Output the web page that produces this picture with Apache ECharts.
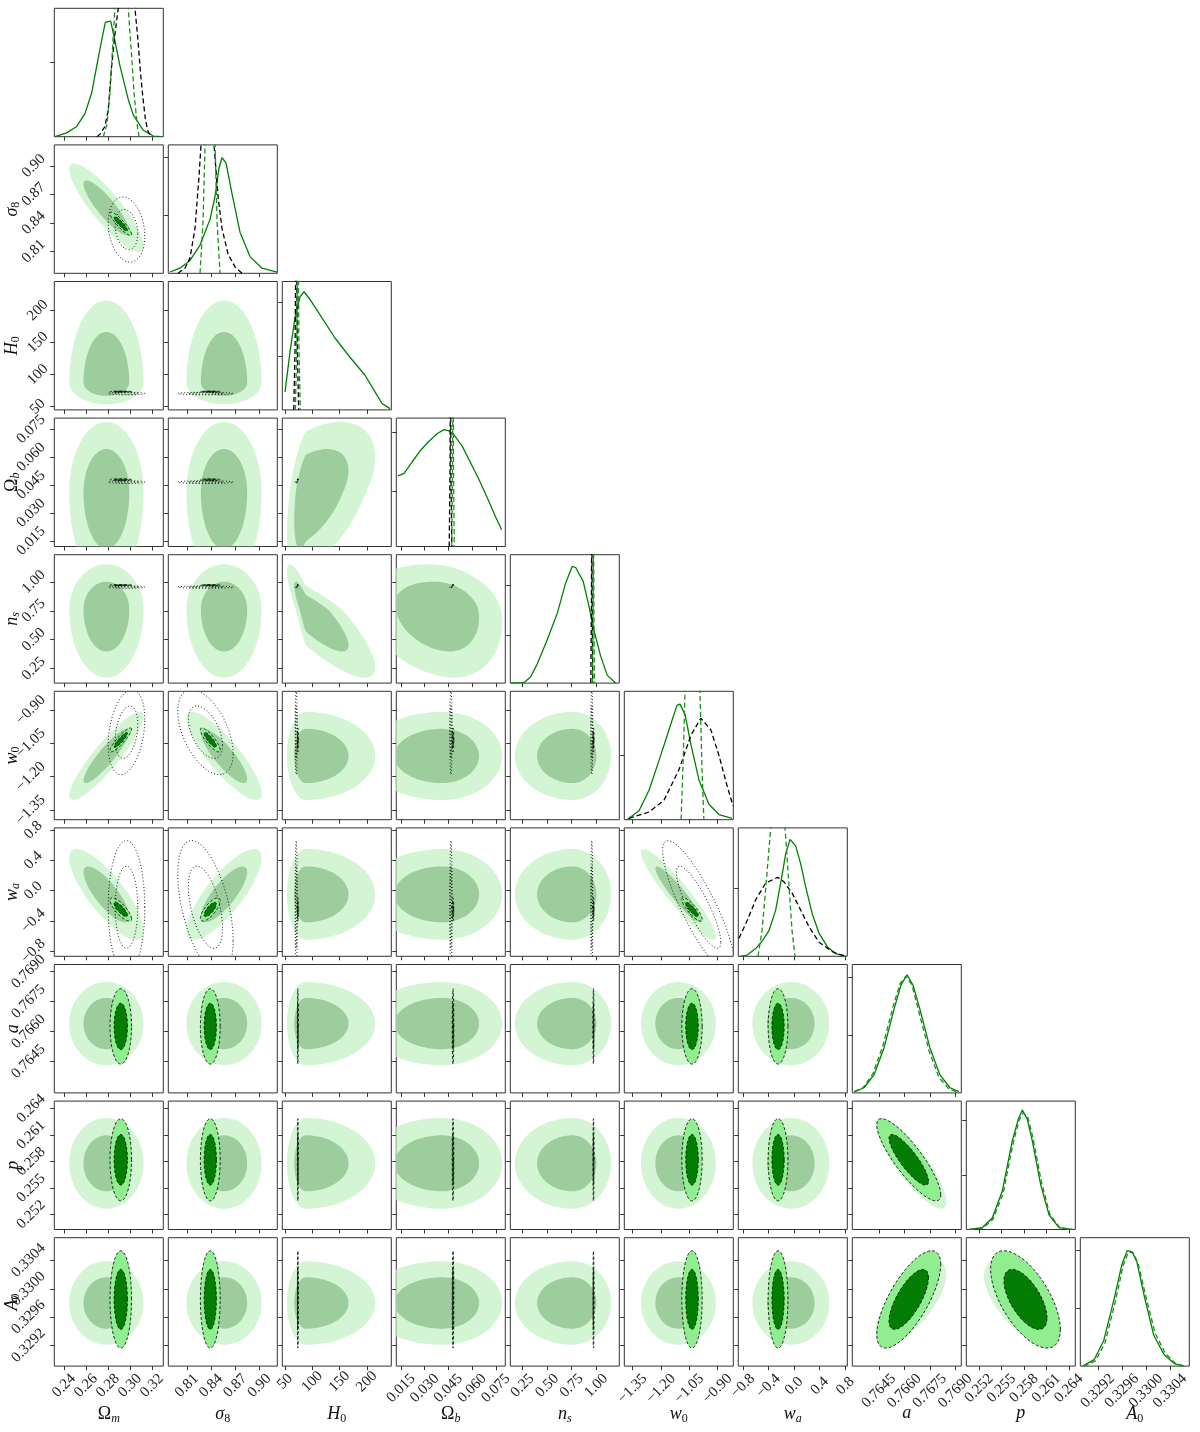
<!DOCTYPE html>
<html>
<head>
<meta charset="utf-8">
<script src="https://cdn.jsdelivr.net/npm/echarts@6/dist/echarts.min.js"></script>
<style>
html, body { margin: 0; background: #fff; }
#chart { width: 1200px; height: 1432px; }
</style>
</head>
<body>
<div id="chart"></div>
<script>
'use strict';

// parameters: Ωm, σ8, H0, Ωb, ns, w0, wa, a, p, A0
var paramSymbols = [['Ω', 'm', 0, 1], ['σ', '8', 1, 0], ['H', '0', 1, 0], ['Ω', 'b', 0, 1], ['n', 's', 1, 1],
  ['w', '0', 1, 0], ['w', 'a', 1, 1], ['a', '', 1, 0], ['p', '', 1, 0], ['A', '0', 1, 0]];
var axisMin = [0.2311, 0.787, 45, 0.012, 0.125, -1.394, -0.87, 0.76293, 0.2503, 0.32891];
var axisMax = [0.3303, 0.922, 245, 0.081, 1.235, -0.816, 0.83, 0.76936, 0.26485, 0.33072];
var tickLabels = [
  ['0.24', '0.26', '0.28', '0.30', '0.32'],
  ['0.81', '0.84', '0.87', '0.90'],
  ['50', '100', '150', '200'],
  ['0.015', '0.030', '0.045', '0.060', '0.075'],
  ['0.25', '0.50', '0.75', '1.00'],
  ['−1.35', '−1.20', '−1.05', '−0.90'],
  ['−0.8', '−0.4', '0.0', '0.4', '0.8'],
  ['0.7645', '0.7660', '0.7675', '0.7690'],
  ['0.252', '0.255', '0.258', '0.261', '0.264'],
  ['0.3292', '0.3296', '0.3300', '0.3304']
];
var diagTicks = [[0.58], [0.45, 0.9], [0.42, 0.84], [0.43, 0.89], [0.37, 0.76], [0.5], [0.53], [0.45, 0.9], [0.425, 0.85], [0.45, 0.9]];

// wide green run: centre, lower / upper spread, correlations
var greenMean = [0.2785, 0.856, 88, 0.041, 0.76, -1.107, -0.05, 0.7664, 0.2578, 0.3298];
var greenLo = [0.0138, 0.019, 14, 0.02, 0.24, 0.081, 0.245, 0.00085, 0.0021, 0.00024];
var greenHi = [0.0138, 0.019, 52, 0.0155, 0.16, 0.081, 0.245, 0.00085, 0.0021, 0.00024];
var greenCorr = [[0, 1, -0.87], [0, 5, 0.9], [1, 5, -0.85], [0, 6, -0.8], [1, 6, 0.8], [5, 6, -0.93],
  [2, 4, -0.85], [2, 3, 0.5], [3, 4, -0.2], [7, 8, -0.85], [7, 9, 0.7], [8, 9, -0.65]];

// narrow run (filled green, dashed outline)
var narrowMean = [0.2916, 0.839, 73.5, 0.0479, 0.972, -1.035, -0.25, 0.76626, 0.2582, 0.32985];
var narrowSig = [0.004, 0.005, 0.3, 0.0002, 0.002, 0.022, 0.063, 0.00077, 0.0019, 0.00028];
var narrowCorr = [[0, 1, -0.9], [0, 5, 0.9], [1, 5, -0.85], [0, 6, -0.8], [1, 6, 0.75], [5, 6, -0.85],
  [7, 8, -0.85], [7, 9, 0.72], [8, 9, -0.62]];

// black dotted run (first seven parameters only)
var blackMean = [0.2968, 0.833, 70.5, 0.0466, 0.955, -1.0, -0.22];
var blackSig = [0.0068, 0.014, 0.8, 0.0003, 0.004, 0.078, 0.36];
var blackCorr = [[0, 1, -0.2], [0, 5, 0.3], [1, 5, -0.5], [1, 6, -0.5], [5, 6, -0.85]];

// 1D marginals, height relative to the panel top
var diagGreen = [
  [[0.2317, 0], [0.2424, 0.03], [0.2515, 0.08], [0.2590, 0.18], [0.2651, 0.34], [0.2697, 0.55], [0.2742, 0.75], [0.2775, 0.89], [0.2784, 0.90], [0.2824, 0.90], [0.2850, 0.80], [0.2909, 0.55], [0.2984, 0.29], [0.3030, 0.17], [0.3121, 0.05], [0.3212, 0.005], [0.3290, 0]],
  [[0.7891, 0.01], [0.8015, 0.04], [0.8139, 0.10], [0.8263, 0.22], [0.8387, 0.42], [0.8449, 0.60], [0.8498, 0.82], [0.8535, 0.90], [0.8585, 0.86], [0.8659, 0.62], [0.8758, 0.32], [0.8882, 0.13], [0.9031, 0.04], [0.9216, 0.01]],
  [[50, 0.14], [59.1, 0.45], [68.3, 0.72], [77.5, 0.88], [84.8, 0.92], [95.8, 0.86], [114.2, 0.74], [141.7, 0.56], [169.2, 0.41], [196.8, 0.27], [215.1, 0.14], [228, 0.05], [242.7, 0.01]],
  [[0.0131, 0.55], [0.0169, 0.57], [0.0221, 0.66], [0.0274, 0.75], [0.0327, 0.82], [0.0380, 0.88], [0.0422, 0.91], [0.0454, 0.90], [0.0485, 0.87], [0.0538, 0.78], [0.0591, 0.65], [0.0644, 0.52], [0.0696, 0.38], [0.0749, 0.23], [0.0787, 0.13]],
  [[0.129, 0], [0.264, 0.003], [0.333, 0.05], [0.400, 0.15], [0.502, 0.34], [0.604, 0.545], [0.689, 0.78], [0.756, 0.91], [0.791, 0.90], [0.868, 0.79], [0.926, 0.60], [0.977, 0.41], [1.045, 0.21], [1.113, 0.06], [1.198, 0]],
  [[-1.380, 0], [-1.316, 0.07], [-1.263, 0.23], [-1.210, 0.46], [-1.157, 0.70], [-1.115, 0.89], [-1.099, 0.90], [-1.072, 0.82], [-1.040, 0.58], [-0.998, 0.31], [-0.945, 0.12], [-0.892, 0.04], [-0.823, 0.01]],
  [[-0.848, 0], [-0.730, 0.01], [-0.599, 0.06], [-0.496, 0.12], [-0.391, 0.20], [-0.287, 0.36], [-0.184, 0.64], [-0.131, 0.80], [-0.063, 0.91], [0.025, 0.86], [0.103, 0.72], [0.181, 0.54], [0.284, 0.33], [0.389, 0.18], [0.518, 0.075], [0.649, 0.02], [0.805, 0]],
  [[0.76309, 0.01], [0.76362, 0.04], [0.76421, 0.14], [0.76480, 0.35], [0.76539, 0.65], [0.76580, 0.84], [0.76616, 0.92], [0.76651, 0.84], [0.76692, 0.65], [0.76751, 0.35], [0.76810, 0.14], [0.76869, 0.04], [0.76922, 0.01]],
  [[0.25066, 0], [0.25244, 0.015], [0.25377, 0.09], [0.25511, 0.30], [0.25644, 0.69], [0.25724, 0.86], [0.25778, 0.93], [0.25844, 0.86], [0.25911, 0.69], [0.26023, 0.35], [0.26134, 0.115], [0.26267, 0.015], [0.26445, 0]],
  [[0.32895, 0], [0.32914, 0.05], [0.32930, 0.2], [0.32947, 0.52], [0.32960, 0.79], [0.32969, 0.90], [0.32977, 0.89], [0.32985, 0.81], [0.32997, 0.55], [0.33013, 0.24], [0.33030, 0.09], [0.33047, 0.02], [0.33063, 0]]
];
var diagBlack = [
  [[0.2700, 0], [0.2727, 0.02], [0.2772, 0.08], [0.2802, 0.21], [0.2833, 0.55], [0.2863, 0.80], [0.2893, 1.0], [0.2970, 1.5], [0.3045, 1.0], [0.3073, 0.75], [0.3095, 0.5], [0.3118, 0.3], [0.3141, 0.13], [0.3164, 0.04], [0.3200, 0]],
  [[0.7990, 0], [0.8077, 0.04], [0.8139, 0.12], [0.8201, 0.35], [0.8250, 0.75], [0.8275, 1.0], [0.8362, 1.5], [0.8436, 1.0], [0.8486, 0.6], [0.8535, 0.35], [0.8610, 0.15], [0.8696, 0.05], [0.8783, 0]],
  [[66, 0], [68.5, 0.5], [69.3, 1.0], [70.5, 2.0], [71.7, 1.0], [72.5, 0.5], [75, 0]],
  [[0.0455, 0], [0.0460, 0.6], [0.0461, 1.0], [0.0463, 2.0], [0.0465, 1.0], [0.0466, 0.6], [0.0471, 0]],
  [[0.945, 0], [0.951, 0.6], [0.953, 1.0], [0.955, 2.0], [0.957, 1.0], [0.959, 0.6], [0.965, 0]],
  [[-1.369, 0.01], [-1.263, 0.06], [-1.184, 0.15], [-1.104, 0.39], [-1.040, 0.66], [-0.988, 0.79], [-0.935, 0.70], [-0.892, 0.50], [-0.850, 0.27], [-0.818, 0.11]],
  [[-0.859, 0.14], [-0.730, 0.28], [-0.599, 0.44], [-0.443, 0.57], [-0.340, 0.595], [-0.255, 0.615], [-0.157, 0.58], [-0.028, 0.49], [0.103, 0.36], [0.233, 0.23], [0.389, 0.11], [0.597, 0.036], [0.805, 0]],
  null, null, null
];
var diagNarrow = [
  [[0.2757, 0], [0.2791, 0.1], [0.2818, 0.35], [0.2845, 0.75], [0.2863, 1.0], [0.2924, 1.6], [0.2984, 1.0], [0.3009, 0.7], [0.3036, 0.35], [0.3064, 0.1], [0.3082, 0]],
  [[0.8263, 0], [0.8300, 0.4], [0.8325, 1.0], [0.8387, 1.6], [0.8449, 1.0], [0.8474, 0.4], [0.8511, 0]],
  [[69, 0], [71.5, 0.5], [72.3, 1.0], [73.5, 2.0], [74.7, 1.0], [75.5, 0.5], [78, 0]],
  [[0.0471, 0], [0.0476, 0.6], [0.0477, 1.0], [0.0479, 2.0], [0.0481, 1.0], [0.0482, 0.6], [0.0487, 0]],
  [[0.962, 0], [0.968, 0.6], [0.970, 1.0], [0.972, 2.0], [0.974, 1.0], [0.976, 0.6], [0.982, 0]],
  [[-1.093, 0], [-1.083, 0.4], [-1.072, 1.0], [-1.033, 1.6], [-0.993, 1.0], [-0.982, 0.4], [-0.972, 0]],
  [[-0.563, 0], [-0.500, 0.2], [-0.438, 0.55], [-0.365, 1.0], [-0.254, 1.5], [-0.141, 1.0], [-0.079, 0.55], [-0.032, 0.2], [0.015, 0]],
  [[0.76303, 0.01], [0.76356, 0.04], [0.76415, 0.15], [0.76474, 0.37], [0.76533, 0.67], [0.76574, 0.85], [0.76610, 0.91], [0.76645, 0.84], [0.76686, 0.63], [0.76745, 0.33], [0.76804, 0.12], [0.76863, 0.03], [0.76916, 0.005]],
  [[0.25076, 0], [0.25254, 0.012], [0.25387, 0.08], [0.25521, 0.28], [0.25654, 0.67], [0.25734, 0.85], [0.25790, 0.91], [0.25854, 0.87], [0.25921, 0.71], [0.26033, 0.37], [0.26144, 0.12], [0.26277, 0.015], [0.26455, 0]],
  [[0.32897, 0], [0.32916, 0.04], [0.32932, 0.18], [0.32949, 0.50], [0.32962, 0.78], [0.32971, 0.89], [0.32979, 0.88], [0.32987, 0.80], [0.32999, 0.56], [0.33015, 0.26], [0.33032, 0.10], [0.33049, 0.02], [0.33065, 0]]
];

var NP = 10;
var LEFT0 = 54.3, TOP0 = 8.3, PITCH_X = 114, PITCH_Y = 136.6, W = 109, H = 128.4;
var R1 = 1.51, R2 = 2.45; // 68% and 95% contour radii
var FONT = 'Liberation Serif';
var TICK_FS = 15;

var greenSet = {mean: greenMean, lo: greenLo, hi: greenHi, corr: greenCorr, n: 10};
var narrowSet = {mean: narrowMean, lo: narrowSig, hi: narrowSig, corr: narrowCorr, n: 10};
var blackSet = {mean: blackMean, lo: blackSig, hi: blackSig, corr: blackCorr, n: 7};

var tickVals = tickLabels.map(function (arr) {
  return arr.map(function (s) { return parseFloat(s.replace('−', '-')); });
});

// rough size of a rotated label's bounding box, so that labels sit like matplotlib's
function rotatedBox(p) {
  var s = tickLabels[p][0];
  var w = 0;
  for (var k = 0; k < s.length; k++) w += (s[k] === '.' ? 0.25 : (s[k] === '−' ? 0.56 : 0.5)) * TICK_FS;
  return (w + TICK_FS * 0.8) * 0.7071;
}

function labelFor(p, v) {
  var best = 0;
  tickVals[p].forEach(function (t, k) {
    if (Math.abs(t - v) < Math.abs(tickVals[p][best] - v)) best = k;
  });
  return tickLabels[p][best];
}

function richName(p) {
  var s = paramSymbols[p];
  var out = '{' + (s[2] ? 'i' : 'u') + '|' + s[0] + '}';
  if (s[1]) out += '{' + (s[3] ? 'si' : 'su') + '|' + s[1] + '}';
  return out;
}

var nameRich = {
  i: {fontFamily: FONT, fontStyle: 'italic', fontSize: 18, color: '#111'},
  u: {fontFamily: FONT, fontSize: 18, color: '#111'},
  si: {fontFamily: FONT, fontStyle: 'italic', fontSize: 12, color: '#111', padding: [9, 0, 0, 0]},
  su: {fontFamily: FONT, fontSize: 12, color: '#111', padding: [9, 0, 0, 0]}
};

function corrOf(list, i, j) {
  for (var k = 0; k < list.length; k++) {
    var e = list[k];
    if ((e[0] === i && e[1] === j) || (e[0] === j && e[1] === i)) return e[2];
  }
  return 0;
}

function ellipsePts(set, i, j, rad) {
  var rho = corrOf(set.corr, i, j), out = [];
  for (var k = 0; k < 90; k++) {
    var t = k / 90 * 2 * Math.PI;
    var u = rad * Math.cos(t);
    var v = rad * (rho * Math.cos(t) + Math.sqrt(1 - rho * rho) * Math.sin(t));
    out.push([set.mean[i] + u * (u < 0 ? set.lo[i] : set.hi[i]),
              set.mean[j] + v * (v < 0 ? set.lo[j] : set.hi[j])]);
  }
  return out;
}

function valueAxis(p, gi, showLabels, isX) {
  var box = rotatedBox(p);
  return {
    type: 'value', gridIndex: gi, min: axisMin[p], max: axisMax[p],
    axisLine: {show: false, onZero: false}, splitLine: {show: false},
    axisTick: {show: true, inside: false, length: 4, customValues: tickVals[p], lineStyle: {color: '#333', width: 1}},
    axisLabel: {
      show: showLabels, customValues: tickVals[p], rotate: 45,
      align: 'center', verticalAlign: 'middle',
      margin: (isX ? 6 : 7) + box / 2,
      fontFamily: FONT, fontSize: TICK_FS, color: '#222',
      formatter: function (v) { return labelFor(p, v); }
    },
    name: showLabels ? richName(p) : '',
    nameLocation: 'middle',
    nameGap: isX ? 38 : 32,
    nameMoveOverlap: false,
    nameRotate: isX ? 0 : 90,
    nameTextStyle: {rich: nameRich}
  };
}

function diagAxis(p, gi) {
  return {
    type: 'value', gridIndex: gi, min: 0, max: 1,
    axisLine: {show: false, onZero: false}, splitLine: {show: false},
    axisTick: {show: true, inside: false, length: 4, customValues: diagTicks[p], lineStyle: {color: '#333', width: 1}},
    axisLabel: {show: false}
  };
}

function contourSeries(r, c, gi) {
  return {
    type: 'custom', xAxisIndex: gi, yAxisIndex: gi, silent: true, clip: true,
    data: [[(axisMin[c] + axisMax[c]) / 2, (axisMin[r] + axisMax[r]) / 2]],
    renderItem: function (params, api) {
      var kids = [];
      var cs = params.coordSys;
      function poly(set, rad, fill, stroke, dash) {
        var pts = ellipsePts(set, c, r, rad).map(function (q) { return api.coord(q); });
        kids.push({
          type: 'polygon', shape: {points: pts},
          style: {fill: fill || 'none', stroke: stroke || 'none', lineWidth: stroke ? 0.9 : 0, lineDash: dash || null}
        });
      }
      poly(greenSet, R2, '#d3f5d3');
      poly(greenSet, R1, '#9dcc9d');
      poly(narrowSet, R2, '#90ee90');
      poly(narrowSet, R1, '#037d03');
      poly(narrowSet, R2, null, '#111', [3, 2]);
      poly(narrowSet, R1, null, '#111', [3, 2]);
      if (r < blackSet.n && c < blackSet.n) {
        poly(blackSet, R2, null, '#000', [1, 2.2]);
        poly(blackSet, R1, null, '#000', [1, 2.2]);
      }
      return {
        type: 'group', children: kids,
        clipPath: {type: 'rect', shape: {x: cs.x, y: cs.y, width: cs.width, height: cs.height}}
      };
    }
  };
}

function curveSeries(pts, gi, color, dash, width) {
  return {
    type: 'line', xAxisIndex: gi, yAxisIndex: gi, data: pts, symbol: 'none', silent: true, clip: true,
    lineStyle: {color: color, width: width, type: dash || 'solid'}
  };
}

var option = {animation: false, backgroundColor: '#fff', grid: [], xAxis: [], yAxis: [], series: []};
var gi = 0;
for (var r = 0; r < NP; r++) {
  for (var c = 0; c <= r; c++) {
    option.grid.push({
      left: LEFT0 + c * PITCH_X, top: TOP0 + r * PITCH_Y, width: W, height: H,
      containLabel: false, outerBoundsMode: 'none',
      show: true, borderColor: '#333', borderWidth: 1, backgroundColor: 'transparent'
    });
    option.xAxis.push(valueAxis(c, gi, r === NP - 1, true));
    if (r === c) {
      option.yAxis.push(diagAxis(r, gi));
      option.series.push(curveSeries(diagGreen[r], gi, '#008000', 'solid', 1.3));
      if (diagBlack[r]) option.series.push(curveSeries(diagBlack[r], gi, '#000', [5, 3], 1.3));
      option.series.push(curveSeries(diagNarrow[r], gi, '#1a8f1a', [5, 3], 1.3));
    } else {
      option.yAxis.push(valueAxis(r, gi, c === 0, false));
      option.series.push(contourSeries(r, c, gi));
    }
    gi++;
  }
}

var chart = echarts.init(document.getElementById('chart'), null, {renderer: 'canvas'});
chart.setOption(option);
</script>
</body>
</html>
